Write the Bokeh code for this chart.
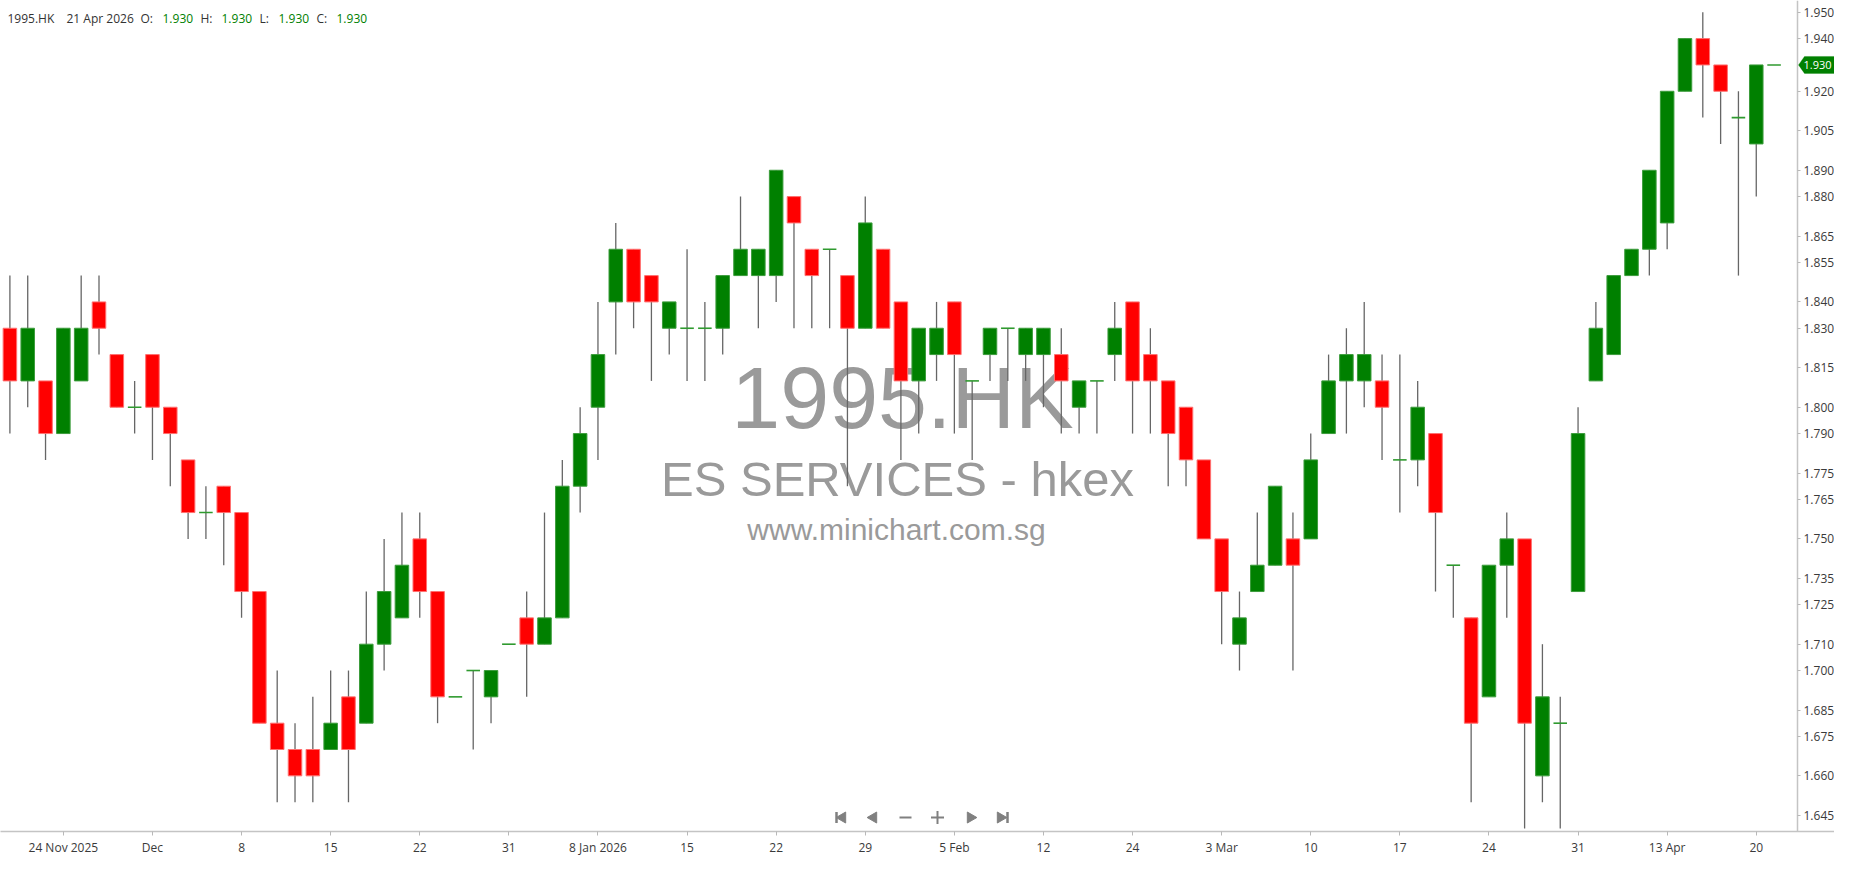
import numpy as np
from bokeh.plotting import figure
from bokeh.models import (ColumnDataSource, FixedTicker, Label, PolyAnnotation,
                          Range1d, PrintfTickFormatter)
from bokeh.embed import file_html
from bokeh.resources import INLINE
from bokeh.core.properties import value

# ---------------- data (HKEX 1995.HK daily, 19 Nov 2025 .. 21 Apr 2026) ----------------
opens = [1.83, 1.81, 1.81, 1.79, 1.81, 1.84, 1.82, 1.80, 1.82, 1.80,
         1.78, 1.76, 1.77, 1.76, 1.73, 1.68, 1.67, 1.67, 1.67, 1.69,
         1.68, 1.71, 1.72, 1.75, 1.73, 1.69, 1.70, 1.69, 1.71, 1.72,
         1.71, 1.72, 1.77, 1.80, 1.84, 1.86, 1.85, 1.83, 1.83, 1.83,
         1.83, 1.85, 1.85, 1.85, 1.88, 1.86, 1.86, 1.85, 1.83, 1.86,
         1.84, 1.81, 1.82, 1.84, 1.81, 1.82, 1.83, 1.82, 1.82, 1.82,
         1.80, 1.81, 1.82, 1.84, 1.82, 1.81, 1.80, 1.78, 1.75, 1.71,
         1.73, 1.74, 1.75, 1.75, 1.79, 1.81, 1.81, 1.81, 1.78, 1.78,
         1.79, 1.74, 1.72, 1.69, 1.74, 1.75, 1.66, 1.68, 1.73, 1.81,
         1.82, 1.85, 1.86, 1.87, 1.92, 1.94, 1.93, 1.91, 1.90, 1.93]
highs = [1.85, 1.85, 1.81, 1.83, 1.85, 1.85, 1.82, 1.81, 1.82, 1.80,
         1.78, 1.77, 1.77, 1.76, 1.73, 1.70, 1.68, 1.69, 1.70, 1.70,
         1.73, 1.75, 1.76, 1.76, 1.73, 1.69, 1.70, 1.70, 1.71, 1.73,
         1.76, 1.78, 1.80, 1.84, 1.87, 1.86, 1.85, 1.84, 1.86, 1.84,
         1.85, 1.88, 1.86, 1.89, 1.88, 1.86, 1.86, 1.85, 1.88, 1.86,
         1.84, 1.83, 1.84, 1.84, 1.81, 1.83, 1.83, 1.83, 1.83, 1.83,
         1.81, 1.81, 1.84, 1.84, 1.83, 1.81, 1.80, 1.78, 1.75, 1.73,
         1.76, 1.77, 1.76, 1.79, 1.82, 1.83, 1.84, 1.82, 1.82, 1.81,
         1.79, 1.74, 1.72, 1.74, 1.76, 1.75, 1.71, 1.69, 1.80, 1.84,
         1.85, 1.86, 1.89, 1.92, 1.94, 1.95, 1.93, 1.92, 1.93, 1.93]
lows = [1.79, 1.80, 1.78, 1.79, 1.81, 1.82, 1.80, 1.79, 1.78, 1.77,
        1.75, 1.75, 1.74, 1.72, 1.68, 1.65, 1.65, 1.65, 1.67, 1.65,
        1.68, 1.70, 1.72, 1.72, 1.68, 1.69, 1.67, 1.68, 1.71, 1.69,
        1.71, 1.72, 1.76, 1.78, 1.82, 1.83, 1.81, 1.82, 1.81, 1.81,
        1.82, 1.85, 1.83, 1.84, 1.83, 1.83, 1.83, 1.77, 1.83, 1.83,
        1.78, 1.79, 1.81, 1.79, 1.78, 1.81, 1.81, 1.81, 1.80, 1.79,
        1.79, 1.79, 1.81, 1.79, 1.79, 1.77, 1.77, 1.75, 1.71, 1.70,
        1.73, 1.74, 1.70, 1.75, 1.79, 1.79, 1.80, 1.78, 1.76, 1.77,
        1.73, 1.72, 1.65, 1.69, 1.72, 1.64, 1.65, 1.64, 1.73, 1.81,
        1.82, 1.85, 1.85, 1.86, 1.92, 1.91, 1.90, 1.85, 1.88, 1.93]
closes = [1.81, 1.83, 1.79, 1.83, 1.83, 1.83, 1.80, 1.80, 1.80, 1.79,
          1.76, 1.76, 1.76, 1.73, 1.68, 1.67, 1.66, 1.66, 1.68, 1.67,
          1.71, 1.73, 1.74, 1.73, 1.69, 1.69, 1.70, 1.70, 1.71, 1.71,
          1.72, 1.77, 1.79, 1.82, 1.86, 1.84, 1.84, 1.84, 1.83, 1.83,
          1.85, 1.86, 1.86, 1.89, 1.87, 1.85, 1.86, 1.83, 1.87, 1.83,
          1.81, 1.83, 1.83, 1.82, 1.81, 1.83, 1.83, 1.83, 1.83, 1.81,
          1.81, 1.81, 1.83, 1.81, 1.81, 1.79, 1.78, 1.75, 1.73, 1.72,
          1.74, 1.77, 1.74, 1.78, 1.81, 1.82, 1.82, 1.80, 1.78, 1.80,
          1.76, 1.74, 1.68, 1.74, 1.75, 1.68, 1.69, 1.68, 1.79, 1.83,
          1.85, 1.86, 1.89, 1.92, 1.94, 1.93, 1.92, 1.91, 1.93, 1.93]

tick_index = [3, 8, 13, 18, 23, 28, 33, 38, 43, 48,
              53, 58, 63, 68, 73, 78, 83, 88, 93, 98]
tick_labels = ["24 Nov 2025", "Dec", "8", "15", "22", "31", "8 Jan 2026", "15", "22", "29",
               "5 Feb", "12", "24", "3 Mar", "10", "17", "24", "31", "13 Apr", "20"]
price_ticks = [1.645, 1.660, 1.675, 1.685, 1.700, 1.710, 1.725, 1.735, 1.750, 1.765,
               1.775, 1.790, 1.800, 1.815, 1.830, 1.840, 1.855, 1.865, 1.880, 1.890,
               1.905, 1.920, 1.940, 1.950]

symbol = "1995.HK"
company = "ES SERVICES - hkex"
site = "www.minichart.com.sg"
last_date = "21 Apr 2026"

# ---------------- layout (pixel coordinates are canvas coordinates) ----------------
W, H = 1834, 858
BORDER_B = 26
FRAME_W = W                                # frame spans the whole width
FRAME_H = H - BORDER_B
AXIS_PX = 1797                             # canvas x of the price axis line
CANDLE_PX = 17.82                          # px per candle
FIRST_PX = 9.4                             # canvas x of first candle
TOP_PX = 11.8                              # canvas y of 1.950
PRICE_PX = (829.0 - TOP_PX) / 0.31         # px per price unit

x_start = -FIRST_PX / CANDLE_PX
x_end = x_start + FRAME_W / CANDLE_PX
y_end = 1.950 + TOP_PX / PRICE_PX
y_start = y_end - FRAME_H / PRICE_PX


def px_x(cx):
    return x_start + cx / CANDLE_PX


def px_y(cy):
    return y_end - cy / PRICE_PX


GREEN = "#008000"
RED = "#ff0000"

o = np.array(opens)
h = np.array(highs)
l = np.array(lows)
c = np.array(closes)
x = np.arange(len(o))

up = c > o + 1e-9
dn = c < o - 1e-9
dj = ~(up | dn)

p = figure(width=W, height=H, x_range=Range1d(x_start, x_end),
           y_range=Range1d(y_start, y_end), output_backend="svg",
           toolbar_location=None, y_axis_location="right",
           min_border_left=0, min_border_top=0,
           min_border_right=0, min_border_bottom=BORDER_B)
p.outline_line_color = None
p.xgrid.visible = False
p.ygrid.visible = False
p.background_fill_color = "white"
p.border_fill_color = "white"

# watermark (behind candles)
p.text(x=[px_x(902)], y=[px_y(397)], text=[symbol], text_font=value("Liberation Sans"),
       text_font_size=value("88px"), text_color="#9a9a9a", text_align="center",
       text_baseline="alphabetic")
p.text(x=[px_x(897)], y=[px_y(479)], text=[company], text_font=value("Liberation Sans"),
       text_font_size=value("49px"), text_color="#9a9a9a", text_align="center",
       text_baseline="alphabetic")
p.text(x=[px_x(896)], y=[px_y(530)], text=[site], text_font=value("Liberation Sans"),
       text_font_size=value("30px"), text_color="#9a9a9a", text_align="center",
       text_baseline="alphabetic")

# wicks
p.segment(x0=x, y0=l, x1=x, y1=h, line_color="#666666", line_width=1.3)

BW = 0.76
src_up = ColumnDataSource(dict(x=x[up], top=c[up], bottom=o[up]))
src_dn = ColumnDataSource(dict(x=x[dn], top=o[dn], bottom=c[dn]))
p.vbar(x="x", width=BW, top="top", bottom="bottom", source=src_up,
       fill_color=GREEN, line_color="#3c9c3c", line_width=1)
p.vbar(x="x", width=BW, top="top", bottom="bottom", source=src_dn,
       fill_color=RED, line_color="#ff7070", line_width=1)
p.segment(x0=x[dj] - BW / 2, y0=c[dj], x1=x[dj] + BW / 2, y1=c[dj],
          line_color="#2f9a2f", line_width=1.6)

# navigation icons
NAV = "#808080"
ny = px_y(818)
p.scatter(x=[px_x(842), px_x(873)], y=[ny, ny], marker="triangle", size=11,
          angle=np.pi / 2, fill_color=NAV, line_color=NAV)
p.scatter(x=[px_x(970), px_x(1000)], y=[ny, ny], marker="triangle", size=11,
          angle=-np.pi / 2, fill_color=NAV, line_color=NAV)
p.scatter(x=[px_x(836), px_x(1007)], y=[ny, ny], marker="dash", size=11,
          angle=np.pi / 2, line_color=NAV, line_width=2.5)
p.scatter(x=[px_x(905)], y=[ny], marker="dash", size=12, line_color=NAV, line_width=2)
p.scatter(x=[px_x(937)], y=[ny], marker="cross", size=13, line_color=NAV, line_width=2)

# axes
xa = p.xaxis[0]
xa.ticker = FixedTicker(ticks=tick_index)
xa.major_label_overrides = {i: s for i, s in zip(tick_index, tick_labels)}
ya = p.yaxis[0]
ya.ticker = FixedTicker(ticks=price_ticks)
ya.formatter = PrintfTickFormatter(format="%.3f")
ya.fixed_location = px_x(AXIS_PX)          # price scale sits inside the canvas edge
for ax in (xa, ya):
    ax.axis_label = None
    ax.axis_label_standoff = 0
    ax.axis_line_color = "#c4c4c4"
    ax.axis_line_width = 1.5
    ax.major_tick_line_color = "#b8b8b8"
    ax.major_tick_in = 0
    ax.minor_tick_line_color = None
    ax.major_label_text_font = "Open Sans"
    ax.major_label_text_font_size = "12px"
    ax.major_label_text_color = "#3a3a3a"
xa.major_tick_out = 4
xa.major_label_standoff = 3
ya.major_tick_out = 3
ya.major_label_standoff = 3

# header
hy = px_y(18)
header = [(7, symbol, "#333333"), (66, last_date, "#333333"),
          (140, "O:", "#333333"), (162, "%.3f" % opens[-1], GREEN),
          (200, "H:", "#333333"), (221, "%.3f" % highs[-1], GREEN),
          (259, "L:", "#333333"), (278, "%.3f" % lows[-1], GREEN),
          (316, "C:", "#333333"), (336, "%.3f" % closes[-1], GREEN)]
for px, txt, col in header:
    p.add_layout(Label(x=px_x(px), y=hy, text=txt, text_color=col,
                       text_font="Open Sans", text_font_size="12px",
                       text_baseline="middle", text_align="left"))

# last price tag on the price axis
last = closes[-1]
half = 8.5 / PRICE_PX
p.add_layout(PolyAnnotation(
    xs=[px_x(AXIS_PX + 1), px_x(AXIS_PX + 7), px_x(W), px_x(W), px_x(AXIS_PX + 7)],
    ys=[last, last + half, last + half, last - half, last - half],
    fill_color=GREEN, fill_alpha=1, line_color=GREEN, line_width=1))
p.add_layout(Label(x=px_x(AXIS_PX + 6), y=last, text="%.3f" % last, text_color="white",
                   text_font="Open Sans", text_font_size="11px", text_baseline="middle",
                   text_align="left"))

open("out.html", "w").write(file_html(p, INLINE))
